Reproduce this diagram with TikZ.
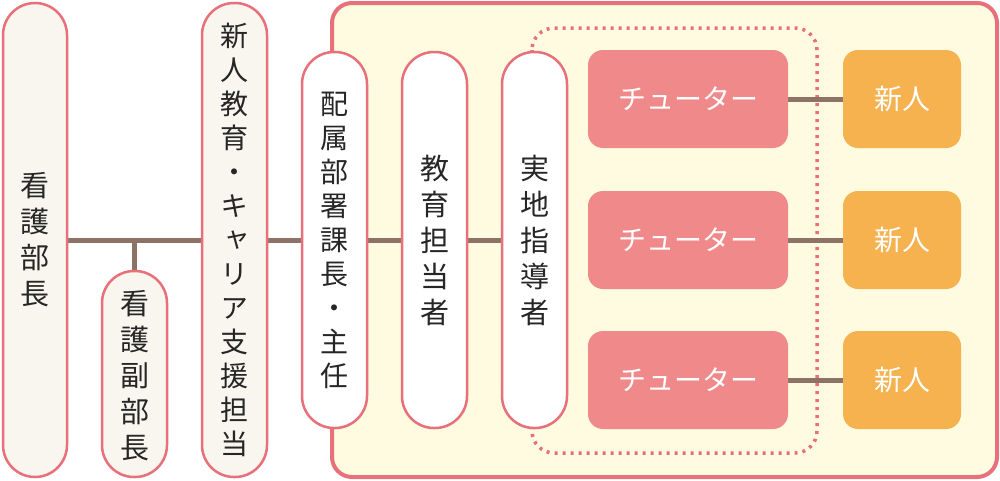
\documentclass[tikz,border=0pt]{standalone}
\usepackage{fontspec}
\newfontfamily\cjk{Noto Sans CJK JP}
\newfontfamily\cjkv[RawFeature={+vert}]{Noto Sans CJK JP}
\definecolor{pinkb}{HTML}{E8707A}
\definecolor{cream}{HTML}{F8F6EE}
\definecolor{panel}{HTML}{FFFBE0}
\definecolor{tut}{HTML}{F08A8A}
\definecolor{newc}{HTML}{F5B24F}
\definecolor{brn}{HTML}{8C7366}
\begin{document}
\begin{tikzpicture}[x=1pt,y=-1pt,
  vbox/.style={draw=pinkb,line width=2.5pt,rounded corners=32pt,fill=cream},
  vtxt/.style={font=\cjkv\fontsize{29}{36}\selectfont,align=center,text=black!85},
  vtxs/.style={font=\cjkv\fontsize{28}{34}\selectfont,align=center,text=black!85},
  tbox/.style={fill=tut,rounded corners=15pt},
  nbox/.style={fill=newc,rounded corners=15pt},
  wtxt/.style={font=\cjk\fontsize{28}{32}\selectfont,text=white},
  conn/.style={draw=brn,line width=5pt}]
\useasboundingbox (0,0) rectangle (1000,480);
\draw[draw=pinkb,line width=4pt,fill=panel,rounded corners=20pt] (332,3) rectangle (997,477);
\draw[draw=pinkb,line width=3.5pt,dash pattern=on 3pt off 5pt,rounded corners=22pt] (532,28) rectangle (817,453);
% connectors
\coordinate (j1) at (134,240);
\draw[conn] (67,240) -- (302,240);
\draw[conn] (j1) -- (134,270);
\draw[conn] (367,240) -- (402,240);
\draw[conn] (467,240) -- (502,240);
\foreach \y in {99,240,380}{\draw[conn] (788,\y) -- (843,\y);}
% vertical boxes
\draw[vbox] (3,3) rectangle (67,477);
\node[vtxt] (a) at (35,240) {看\\護\\部\\長};
\draw[vbox] (102,271) rectangle (167,477);
\node[vtxt] (b) at (134.5,376) {看\\護\\副\\部\\長};
\draw[vbox] (202,3) rectangle (267,477);
\node[vtxs] (c) at (234.5,240) {新\\人\\教\\育\\・\\キ\\ャ\\リ\\ア\\支\\援\\担\\当};
\draw[vbox,fill=white] (302,52) rectangle (367,428);
\node[vtxs] (d) at (334.5,240) {配\\属\\部\\署\\課\\長\\・\\主\\任};
\draw[vbox,fill=white] (402,52) rectangle (467,428);
\node[vtxt] (e) at (434.5,240) {教\\育\\担\\当\\者};
\draw[vbox,fill=white] (502,52) rectangle (567,428);
\node[vtxt] (f) at (534.5,240) {実\\地\\指\\導\\者};
% tutors and newcomers
\foreach \y/\n in {99/1,240/2,380/3}{
  \fill[tbox] (588,\y-49) rectangle (788,\y+49);
  \node[wtxt] (t\n) at (688,\y) {チューター};
  \fill[nbox] (843,\y-49) rectangle (961,\y+49);
  \node[wtxt] (n\n) at (902,\y) {新人};
}
\end{tikzpicture}
\end{document}
